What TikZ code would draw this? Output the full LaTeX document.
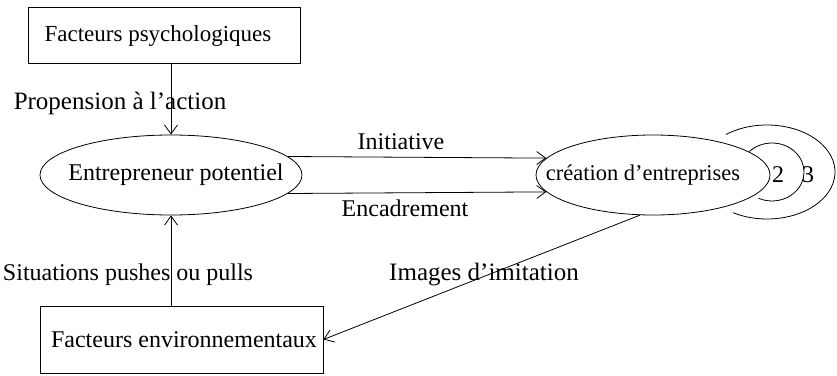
\documentclass[tikz,border=0pt]{standalone}
\usepackage{fontspec}
\setmainfont{Liberation Serif}
\usetikzlibrary{arrows.meta,shapes.geometric,calc}
\begin{document}
\begin{tikzpicture}[x=1pt,y=1pt,
  every node/.style={font=\fontsize{24}{28}\selectfont, inner sep=0pt},
  boxnode/.style={draw, line width=0.8pt, minimum height=#1},
  ellnode/.style={draw, ellipse, line width=0.8pt},
  conn/.style={line width=0.8pt, -{Straight Barb[length=9pt,width=13pt,line width=0.8pt]}},
  fs/.style={font=\fontsize{#1}{#1}\selectfont}]
\useasboundingbox (0,0) rectangle (837,-375);
% boxes
\node[boxnode=56pt, minimum width=272pt] (tbox) at (164,-35) {};
\node[fs=23] (tboxtext) at (158,-36) {Facteurs psychologiques};
\node[boxnode=67pt, minimum width=283pt] (bbox) at (181.5,-339.5) {};
\node (bboxtext) at (184,-340) {Facteurs environnementaux};
% ellipses
\node[ellnode, minimum width=262pt, minimum height=80pt] (lep) at (171,-175) {};
\node (leptext) at (176,-175) {Entrepreneur potentiel};
\node[ellnode, minimum width=234pt, minimum height=80pt] (rep) at (653,-175) {};
\node[fs=22.5] (reptext) at (643,-175) {création d’entreprises};
% connectors
\draw[conn] (lep.north |- tbox.south) -- (lep.north);
\draw[conn] (lep.south |- bbox.north) -- (lep.south);
\draw[conn] (lep.9) -- (rep.171);
\draw[conn] (lep.-9) -- (rep.-171);
\draw[conn] (rep.252) -- (bbox.east);
% labels
\node[fs=25] (l1) at (120,-103) {Propension à l’action};
\node (l2) at (401,-142) {Initiative};
\node (l3) at (405,-208) {Encadrement};
\node (l4) at (128,-275) {Situations pushes ou pulls};
\node[fs=25] (l5) at (484,-275) {Images d’imitation};
% arcs 2 and 3
\coordinate (c2) at (772,-172);
\coordinate (c3) at (767,-172);
\draw[line width=0.8pt] ([shift={(135:32pt and 29pt)}]c2) arc[start angle=135, end angle=-115, x radius=32pt, y radius=29pt];
\draw[line width=0.8pt] ([shift={(127:68pt and 47pt)}]c3) arc[start angle=127, end angle=-120, x radius=68pt, y radius=47pt];
\node (n2) at (778,-175) {2};
\node (n3) at (808,-175) {3};
\end{tikzpicture}
\end{document}
